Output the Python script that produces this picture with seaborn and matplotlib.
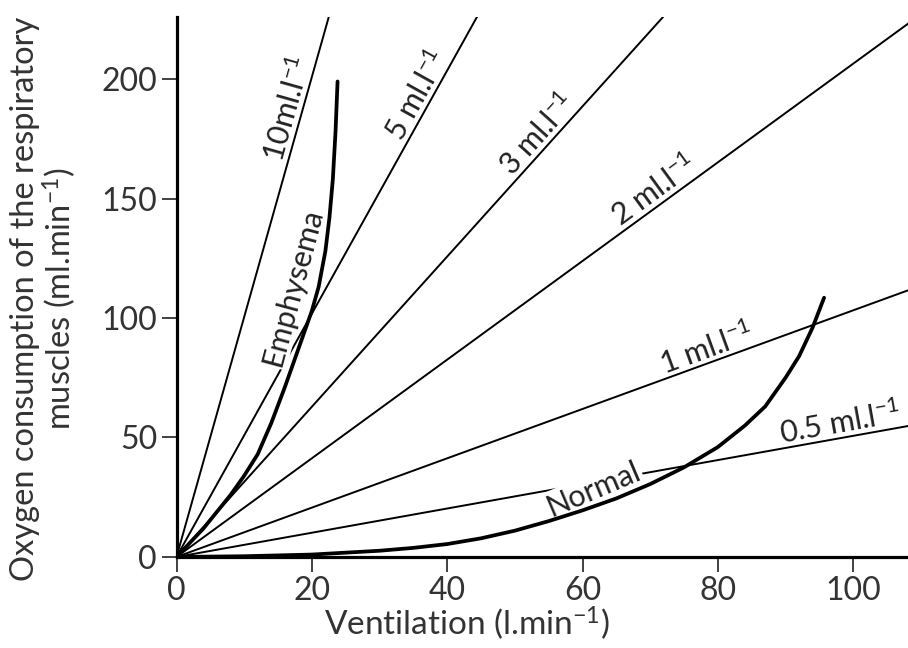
import matplotlib
matplotlib.use("Agg")
import matplotlib.pyplot as plt
import matplotlib.transforms as mtransforms
import numpy as np
import pandas as pd
import seaborn as sns

# ---------------- data ----------------
ventilation_ticks = [0, 20, 40, 60, 80, 100]
o2_ticks = [0, 50, 100, 150, 200]

iso_names = ["10", "5", "3", "2", "1", "0.5"]
iso_end_x = [22.5, 44.4, 71.9, 108.5, 108.5, 108.5]
iso_end_y = [226.0, 226.0, 226.0, 224.0, 112.0, 55.0]

emph_x = [0, 4, 8, 10, 12, 14, 16, 18, 20, 21.0, 22.0, 22.6, 23.1, 23.5, 23.8]
emph_y = [0, 12, 26, 34, 43, 56, 71, 87, 103, 113, 128, 142, 158, 178, 199]

normal_x = [0, 10, 20, 30, 35, 40, 45, 50, 55, 60, 65, 70, 75, 80, 84, 87, 90, 92, 94, 95.7]
normal_y = [0, 0.3, 1.0, 2.6, 3.8, 5.4, 7.8, 11, 15, 19.5, 24.5, 30.5, 37.5, 46, 55, 63, 75, 84, 96, 108.5]

iso_texts = [r"10ml.l$^{-1}$", r"5 ml.l$^{-1}$", r"3 ml.l$^{-1}$",
             r"2 ml.l$^{-1}$", r"1 ml.l$^{-1}$", r"0.5 ml.l$^{-1}$"]

# ---------------- style ----------------
sns.set_theme(style="white")
plt.rcParams["font.family"] = ["Lato", "DejaVu Sans"]
plt.rcParams["mathtext.fontset"] = "custom"
plt.rcParams["mathtext.rm"] = "Lato"
plt.rcParams["mathtext.it"] = "Lato"
plt.rcParams["mathtext.bf"] = "Lato:bold"
plt.rcParams["text.color"] = "#222222"

fig = plt.figure(figsize=(9.08, 6.48), dpi=100)
ax = fig.add_axes([0.1944, 0.1405, 0.8056, 0.8333])

iso_rows = []
for name, ex, ey in zip(iso_names, iso_end_x, iso_end_y):
    iso_rows.append({"line": name, "x": 0.0, "y": 0.0})
    iso_rows.append({"line": name, "x": ex, "y": ey})
iso_df = pd.DataFrame(iso_rows)

sns.lineplot(data=iso_df, x="x", y="y", units="line", estimator=None, sort=False,
             color="black", linewidth=1.4, ax=ax, zorder=2)

curve_df = pd.concat([
    pd.DataFrame({"curve": "Emphysema", "x": emph_x, "y": emph_y}),
    pd.DataFrame({"curve": "Normal", "x": normal_x, "y": normal_y}),
])
sns.lineplot(data=curve_df, x="x", y="y", units="curve", estimator=None, sort=False,
             color="black", linewidth=2.7, ax=ax, zorder=4)

ax.set_xlim(0, 108.1)
ax.set_ylim(0, 226)
ax.set_xticks(ventilation_ticks)
ax.set_yticks(o2_ticks)
ax.tick_params(axis="both", direction="out", length=11, width=1.3, color="#333333",
               labelsize=23, labelcolor="#333333", pad=3, bottom=True, left=True)
for s in ["top", "right"]:
    ax.spines[s].set_visible(False)
for s in ["left", "bottom"]:
    ax.spines[s].set_linewidth(2.3)
    ax.spines[s].set_color("black")

ax.set_xlabel(r"Ventilation (l.min$^{-1}$)", fontsize=24, color="#333333")
ax.xaxis.set_label_coords(0.397, -0.123)
ax.xaxis.label.set_va("center")
ax.set_ylabel("Oxygen consumption of the respiratory\n" + r"muscles (ml.min$^{-1}$)",
              fontsize=23.5, color="#333333", linespacing=1.0)
ax.yaxis.set_label_coords(-0.181, 0.478)
ax.yaxis.label.set_va("center")

# iso-line labels: anchored on the line, baseline slightly above it
label_anchor_x = [18.5, 37.4, 55.0, 71.9, 79.1, 98.5]
for t, name, ex, ey, ax_x in zip(iso_texts, iso_names, iso_end_x, iso_end_y, label_anchor_x):
    ay = ax_x * ey / ex
    p0 = ax.transData.transform((0, 0))
    p1 = ax.transData.transform((ex, ey))
    ang = np.degrees(np.arctan2(p1[1] - p0[1], p1[0] - p0[0]))
    d = 3.0
    tr = mtransforms.offset_copy(ax.transData, fig=fig,
                                 x=-np.sin(np.radians(ang)) * d,
                                 y=np.cos(np.radians(ang)) * d, units="points")
    ax.text(ax_x, ay, t, rotation=ang, rotation_mode="anchor", ha="center", va="baseline",
            fontsize=22, color="#222222", zorder=3, transform=tr)

bbox = dict(boxstyle="square,pad=0.05", facecolor="white", edgecolor="none")
ax.text(17.1, 113, "Emphysema", rotation=75, rotation_mode="anchor", ha="center",
        va="center", fontsize=22, color="#222222", zorder=3, bbox=bbox)
ax.text(61.6, 28.5, "Normal", rotation=23, rotation_mode="anchor", ha="center",
        va="center", fontsize=22, color="#222222", zorder=3, bbox=bbox)

fig.savefig("out.png", dpi=100, facecolor="white")
